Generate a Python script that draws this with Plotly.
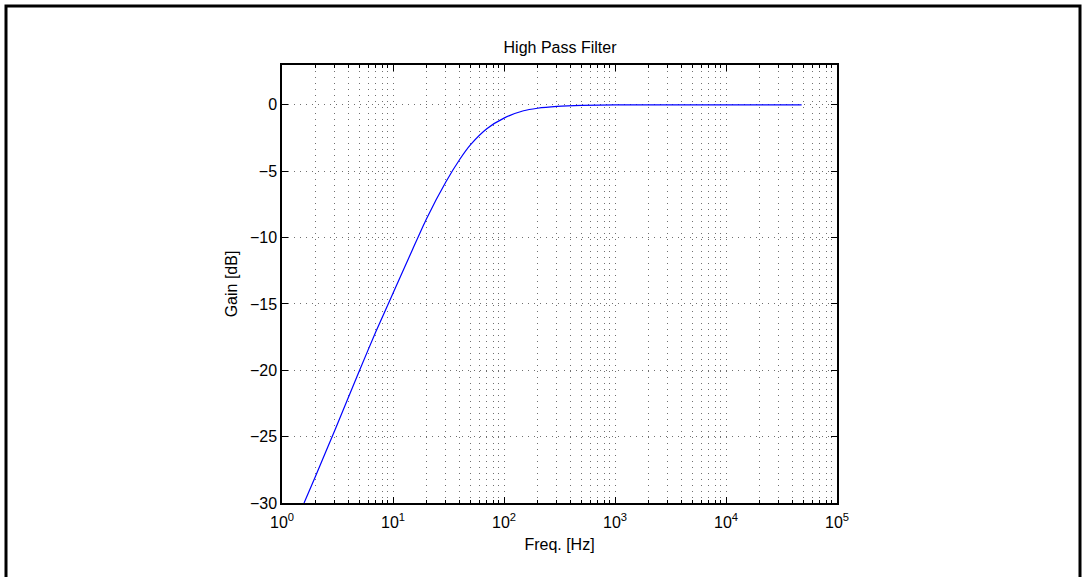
import plotly.graph_objects as go

# Values
freq_hz = [1.58, 2, 3, 5, 7, 10, 15, 20, 30, 40, 50, 70, 100, 150, 200, 300, 500,
           1000, 3000, 10000, 48000]
gain_db = [-30.0, -28.0, -24.5, -20.0, -17.1, -14.2, -10.9, -8.6, -5.8, -4.1, -3.0,
           -1.8, -1.0, -0.45, -0.26, -0.12, -0.04, -0.01, 0.0, 0.0, 0.0]

x_tick_vals = [1, 10, 100, 1000, 10000, 100000]
x_tick_text = ["10<sup>0</sup>", "10<sup>1</sup>", "10<sup>2</sup>", "10<sup>3</sup>",
               "10<sup>4</sup>", "10<sup>5</sup>"]
y_tick_vals = [-30, -25, -20, -15, -10, -5, 0]
y_tick_text = ["\u221230", "\u221225", "\u221220", "\u221215", "\u221210", "\u22125", "0"]
x_minor_vals = [k * 10 ** d for d in range(5) for k in range(2, 10)]

FONT = "Liberation Sans, Arial, Helvetica, sans-serif"
GRID = "#707070"
GRID_DASH = "1px,5px"

fig = go.Figure()
fig.add_trace(go.Scatter(
    x=freq_hz, y=gain_db, mode="lines",
    line=dict(color="#0000ff", width=1.2, shape="spline", smoothing=0.6),
    showlegend=False, hoverinfo="skip",
))

L, R, T, B = 282, 245, 65, 74
W, H = 1082, 577
pw, ph = W - L - R, H - T - B

def px_x(x):
    return (x - L) / pw

def px_y(y):
    return (H - B - y) / ph

fig.update_layout(
    width=W, height=H,
    margin=dict(l=L, r=R, t=T, b=B, autoexpand=False),
    paper_bgcolor="white", plot_bgcolor="white",
    font=dict(family=FONT, size=16, color="black"),
    title=dict(text="High Pass Filter", x=px_x(560), xref="paper", xanchor="center",
               y=1 - 47 / H, yanchor="middle", font=dict(size=16, family=FONT)),
    xaxis=dict(
        type="log", range=[0, 5],
        tickvals=x_tick_vals, ticktext=x_tick_text,
        ticks="inside", ticklen=6, tickwidth=1, tickcolor="black",
        ticklabelstandoff=4,
        showline=True, linecolor="black", linewidth=1.5, mirror="allticks",
        showgrid=True, gridcolor=GRID, griddash=GRID_DASH, gridwidth=1,
        minor=dict(tickvals=x_minor_vals, ticks="inside", ticklen=3, tickcolor="black",
                   showgrid=True, gridcolor=GRID, griddash=GRID_DASH, gridwidth=1),
        title=dict(text="Freq. [Hz]", standoff=9, font=dict(size=16)),
        tickfont=dict(size=16), zeroline=False,
    ),
    yaxis=dict(
        range=[-30, 3],
        tickvals=y_tick_vals, ticktext=y_tick_text,
        ticks="inside", ticklen=6, tickwidth=1, tickcolor="black",
        showline=True, linecolor="black", linewidth=1.5, mirror="allticks",
        showgrid=True, gridcolor=GRID, griddash=GRID_DASH, gridwidth=1,
        title=dict(text="Gain [dB]", standoff=8, font=dict(size=16)),
        tickfont=dict(size=16), zeroline=False,
    ),
    shapes=[
        dict(type="rect", xref="paper", yref="paper",
             x0=px_x(6), x1=px_x(1080), y0=px_y(620), y1=px_y(6),
             line=dict(color="black", width=3), fillcolor="rgba(0,0,0,0)", layer="above"),
    ],
)

fig.write_html("out.html", config={"displayModeBar": False},
               post_script="document.body.style.margin='0';")
